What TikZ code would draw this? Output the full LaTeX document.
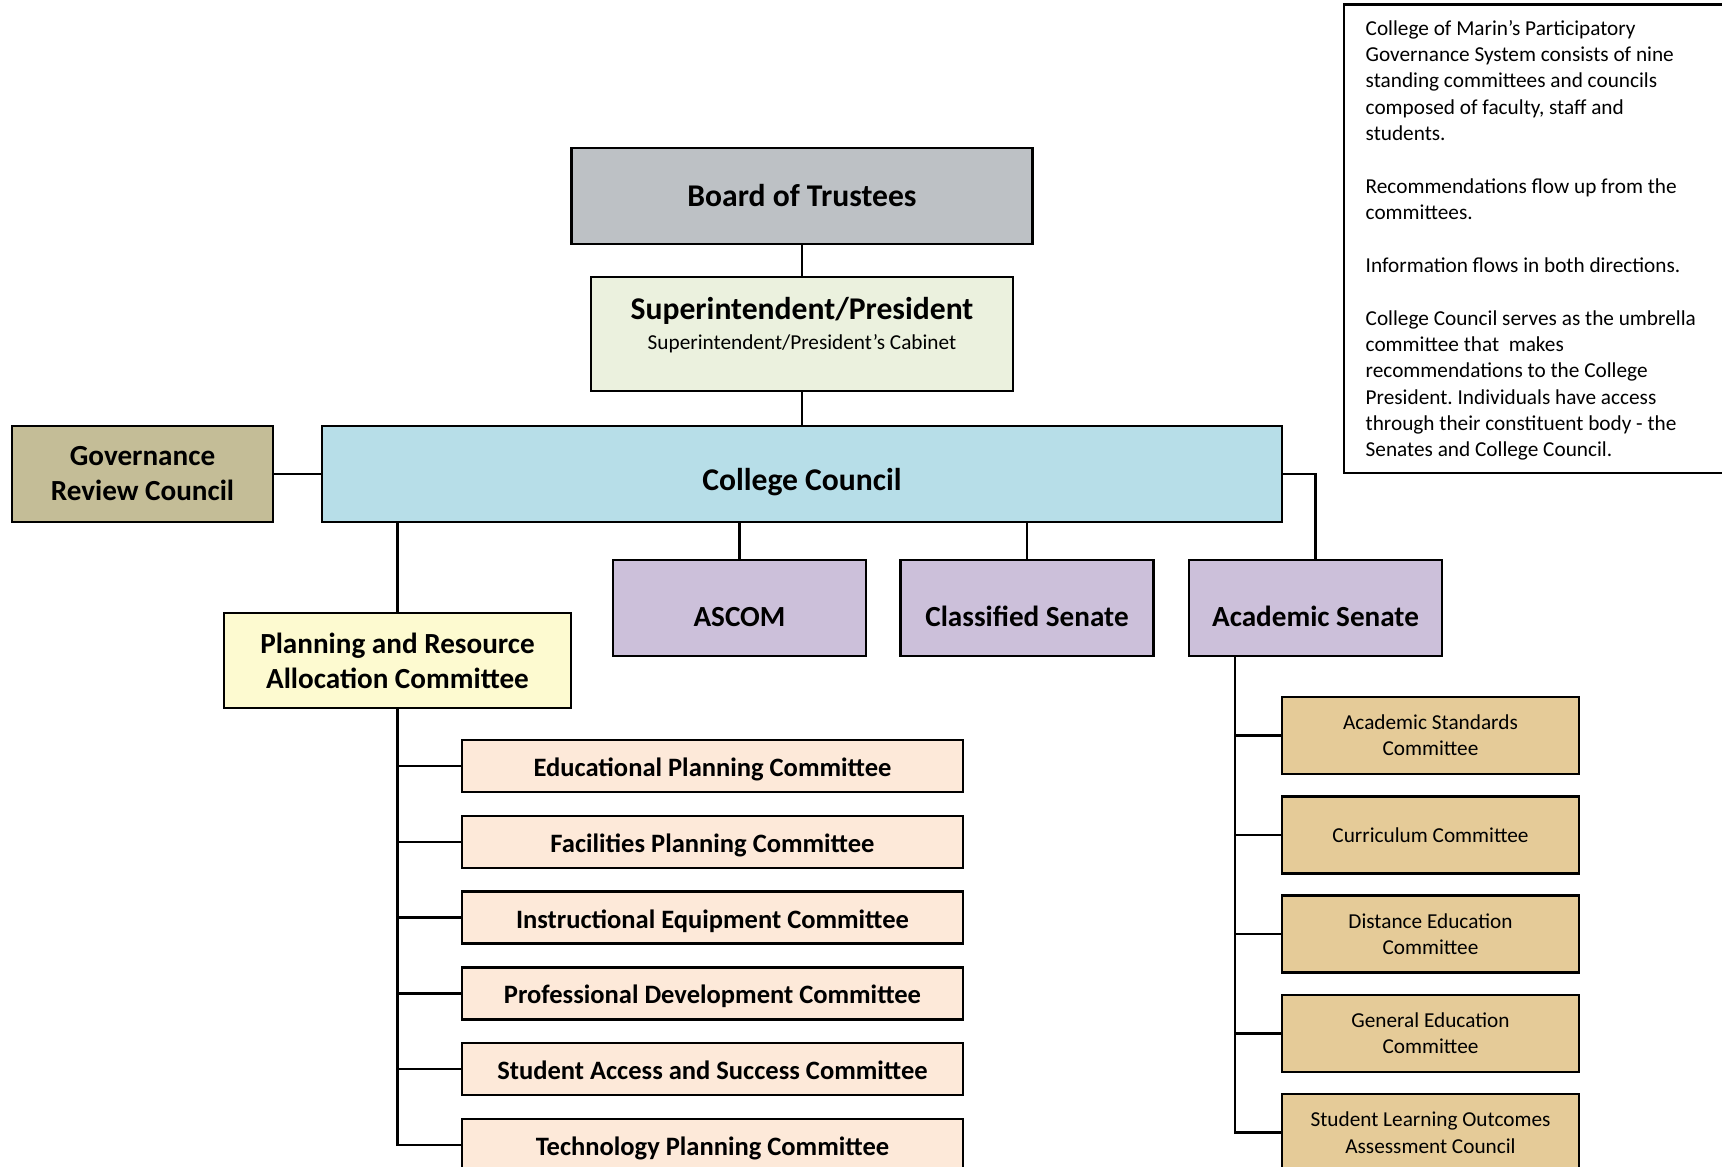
\documentclass[tikz,border=0pt]{standalone}
\usepackage{fontspec}
\setmainfont{Carlito}
\usepackage{xcolor}
\usepackage{tikz}
\usetikzlibrary{positioning}

\definecolor{trusteegray}{RGB}{189,193,197}
\definecolor{suptgreen}{RGB}{235,241,222}
\definecolor{councilblue}{RGB}{183,222,232}
\definecolor{reviewtan}{RGB}{196,189,151}
\definecolor{prayellow}{RGB}{253,250,208}
\definecolor{senatepurple}{RGB}{204,192,218}
\definecolor{cmtpeach}{RGB}{253,233,217}
\definecolor{cmttan}{RGB}{229,203,152}

\newcommand{\boxbig}{\fontsize{9}{10.8}\selectfont\bfseries}
\newcommand{\boxmid}{\fontsize{8.3}{9.96}\selectfont\bfseries}
\newcommand{\boxcmt}{\fontsize{7.55}{9}\selectfont\bfseries}
\newcommand{\boxnote}{\fontsize{6.05}{7.5}\selectfont}
\frenchspacing

\begin{document}
\begin{tikzpicture}[
    box/.style={rectangle, draw, line width=0.7pt, align=center, inner sep=0pt, outer sep=0pt},
    top/.style={box, minimum height=0.96cm, font=\boxbig},
    senate/.style={box, fill=senatepurple, minimum width=2.53cm, minimum height=0.96cm, font=\boxmid, text height=0.43cm, text depth=0.056cm},
    plancmt/.style={box, fill=cmtpeach, minimum width=5.01cm, minimum height=0.52cm, font=\boxcmt, text height=0.24cm, text depth=0.03cm},
    acadcmt/.style={box, fill=cmttan, minimum width=2.97cm, minimum height=0.77cm, font=\boxnote},
    link/.style={line width=0.7pt},
    node distance=0.238cm
]
\useasboundingbox (0,0) rectangle (17.22,-11.67);

% top of the chart
\node[top, fill=trusteegray, minimum width=4.61cm] (board) at (8.02,-1.96) {Board of Trustees};
\node[box, fill=suptgreen, minimum width=4.22cm, minimum height=1.14cm] (supt) at (8.02,-3.34) {};
\node[anchor=base, font=\boxbig] (supttitle) at ([yshift=0.14cm]supt.center) {Superintendent/President};
\node[anchor=base, font=\boxnote] (suptcab) at ([yshift=-0.159cm]supt.center) {Superintendent/President’s Cabinet};
\node[top, fill=councilblue, minimum width=9.6cm, text height=0.39cm, text depth=0.065cm] (cc) at (8.02,-4.74) {College Council};
\node[box, fill=reviewtan, minimum width=2.61cm, minimum height=0.96cm, font=\boxmid] (grc) at (1.425,-4.74) {Governance\\Review Council};

% second row
\node[box, fill=prayellow, minimum width=3.47cm, minimum height=0.95cm, font=\boxmid] (prac) at (3.975,-6.605) {Planning and Resource\\Allocation Committee};
\node[senate] (ascom) at (7.395,-6.08) {ASCOM};
\node[senate] (classified) at (10.27,-6.08) {Classified Senate};
\node[senate] (acad) at (13.155,-6.08) {Academic Senate};

% planning committees
\node[plancmt] (edu) at (7.125,-7.66) {Educational Planning Committee};
\node[plancmt, below=of edu] (fac) {Facilities Planning Committee};
\node[plancmt, below=of fac] (equip) {Instructional Equipment Committee};
\node[plancmt, below=of equip] (profdev) {Professional Development Committee};
\node[plancmt, below=of profdev] (access) {Student Access and Success Committee};
\node[plancmt, below=of access] (tech) {Technology Planning Committee};

% senate committees
\node[acadcmt] (standards) at (14.305,-7.355) {Academic Standards\\Committee};
\node[acadcmt, below=0.223cm of standards] (curric) {Curriculum Committee};
\node[acadcmt, below=0.223cm of curric] (distance) {Distance Education\\Committee};
\node[acadcmt, below=0.223cm of distance] (gened) {General Education\\Committee};
\node[acadcmt, below=0.223cm of gened] (slo) {Student Learning Outcomes\\Assessment Council};

% note
\node[anchor=north west, align=left, font=\boxnote, inner xsep=0.21cm, inner ysep=0.155cm] (note) at (13.44,-0.04) {%
College of Marin’s Participatory\\
Governance System consists of nine\\
standing committees and councils\\
composed of faculty, staff and\\
students.\\[\baselineskip]
Recommendations flow up from the\\
committees.\\[\baselineskip]
Information flows in both directions.\\[\baselineskip]
College Council serves as the umbrella\\
committee that\ \ makes\\
recommendations to the College\\
President. Individuals have access\\
through their constituent body - the\\
Senates and College Council.};
\draw[line width=0.8pt] (17.3,-0.044) -| (13.44,-4.73) -- (17.3,-4.73);

% connectors
\draw[link] (board) -- (supt);
\draw[link] (supt) -- (cc);
\draw[link] (grc) -- (cc);
\draw[link] (cc.south -| ascom.north) -- (ascom);
\draw[link] (cc.south -| classified.north) -- (classified);
\draw[link] (cc.south -| prac.north) -- (prac);
\draw[link] (cc.east) -| (acad);
\foreach \c in {edu,fac,equip,profdev,access,tech}
  \draw[link] (prac.south) |- (\c.west);
\coordinate (acadroot) at ([xshift=0.46cm]acad.south west);
\foreach \c in {standards,curric,distance,gened,slo}
  \draw[link] (acadroot) |- (\c.west);

\end{tikzpicture}
\end{document}
